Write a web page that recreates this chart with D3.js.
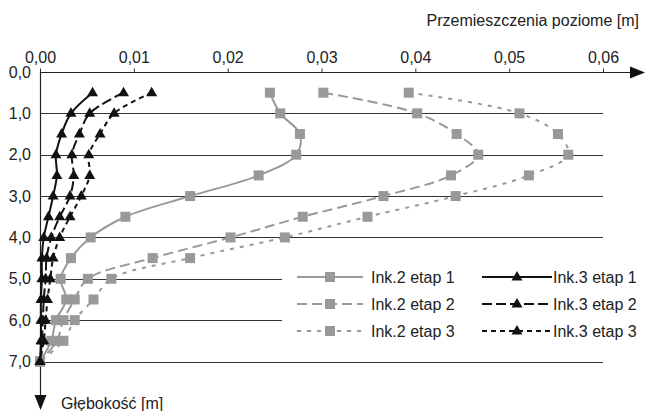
<!DOCTYPE html>
<html lang="pl">
    <head>
        <meta charset="utf-8">
        <title>Przemieszczenia poziome</title>
        <script type="text/javascript" src="https://cdn.jsdelivr.net/npm/d3@7/dist/d3.min.js"></script>
        <style>
            body { margin: 0; background: #fff; }
            svg { display: block; font-family: "Liberation Sans", Arial, sans-serif; }
        </style>
    </head>

    <body>
        <script type="text/javascript">

            // depths [m]
            var depths = [0.5, 1.0, 1.5, 2.0, 2.5, 3.0, 3.5, 4.0, 4.5, 5.0, 5.5, 6.0, 6.5, 7.0];

            // horizontal displacements [m], inclinometer 2
            var ink2_etap1 = [0.0245, 0.0256, 0.0277, 0.0273, 0.0233, 0.0160, 0.0091, 0.0054, 0.0033, 0.0022, 0.0028, 0.0017, 0.0012, 0.0];
            var ink2_etap2 = [0.0302, 0.0402, 0.0444, 0.0467, 0.0438, 0.0366, 0.0280, 0.0203, 0.0120, 0.0051, 0.0037, 0.0025, 0.0018, 0.0];
            var ink2_etap3 = [0.0393, 0.0511, 0.0552, 0.0563, 0.0521, 0.0443, 0.0349, 0.0261, 0.0160, 0.0076, 0.0057, 0.0037, 0.0025, 0.0];

            // horizontal displacements [m], inclinometer 3
            var ink3_etap1 = [0.0056, 0.0033, 0.0023, 0.0017, 0.0018, 0.0014, 0.0009, 0.0004, 0.0002, 0.0002, 0.0001, 0.0001, 0.0001, 0.0];
            var ink3_etap2 = [0.0089, 0.0053, 0.0042, 0.0034, 0.0036, 0.0032, 0.0021, 0.0012, 0.0007, 0.0006, 0.0004, 0.0003, 0.0002, 0.0];
            var ink3_etap3 = [0.0119, 0.0079, 0.0064, 0.0052, 0.0053, 0.0044, 0.0032, 0.0021, 0.0014, 0.0011, 0.0008, 0.0006, 0.0004, 0.0];

            var series_names = ["Ink.2 etap 1", "Ink.2 etap 2", "Ink.2 etap 3", "Ink.3 etap 1", "Ink.3 etap 2", "Ink.3 etap 3"];

            var x_ticks = [0, 0.01, 0.02, 0.03, 0.04, 0.05, 0.06];
            var y_ticks = [0, 1, 2, 3, 4, 5, 6, 7];

            var x_title = "Przemieszczenia poziome [m]";
            var y_title = "Głębokość [m]";

            var gray = "#999999";
            var black = "#111111";
            var font_size = "16px";

            // style of every series: colour, dashes, marker
            var series = [
                { name: series_names[0], values: ink2_etap1, color: gray, dash: null, marker: "square" },
                { name: series_names[1], values: ink2_etap2, color: gray, dash: "10,5", marker: "square" },
                { name: series_names[2], values: ink2_etap3, color: gray, dash: "4,6", marker: "square" },
                { name: series_names[3], values: ink3_etap1, color: black, dash: null, marker: "triangle" },
                { name: series_names[4], values: ink3_etap2, color: black, dash: "10,4", marker: "triangle" },
                { name: series_names[5], values: ink3_etap3, color: black, dash: "5,4", marker: "triangle" }
            ];

            var width = 645;
            var height = 411;

            var x = d3.scaleLinear().domain([0, 0.06]).range([40, 603]);
            var y = d3.scaleLinear().domain([0, 7]).range([72, 361.5]);

            var fmt_x = function(d) { return d3.format(".2f")(d).replace(".", ","); };
            var fmt_y = function(d) { return d3.format(".1f")(d).replace(".", ","); };

            var svg = d3.select("body")
                .append("svg")
                .attr("width", width)
                .attr("height", height);

            // horizontal grid lines
            svg.append("g")
                .selectAll("line")
                .data(y_ticks.slice(1))
                .enter()
                .append("line")
                .attr("x1", x(0))
                .attr("x2", x(0.06))
                .attr("y1", function(d) { return Math.round(y(d)) + 0.5; })
                .attr("y2", function(d) { return Math.round(y(d)) + 0.5; })
                .attr("stroke", "#333")
                .attr("stroke-width", 1);

            // x axis on top, with small ticks and an arrow
            var x_axis = d3.axisTop(x)
                .tickValues(x_ticks)
                .tickSize(4)
                .tickPadding(6)
                .tickFormat(fmt_x);

            var gx = svg.append("g")
                .attr("transform", "translate(0," + (Math.round(y(0)) + 0.5) + ")")
                .call(x_axis);
            gx.select(".domain").remove();
            gx.selectAll("line").attr("stroke", "#333");
            gx.selectAll("text")
                .attr("fill", "#222")
                .style("font-size", font_size);

            svg.append("line")
                .attr("x1", x(0))
                .attr("x2", 632)
                .attr("y1", Math.round(y(0)) + 0.5)
                .attr("y2", Math.round(y(0)) + 0.5)
                .attr("stroke", "#222")
                .attr("stroke-width", 1.2);
            svg.append("path")
                .attr("d", d3.line()([[630, y(0) - 5.5], [645, y(0) + 0.5], [630, y(0) + 6.5]]))
                .attr("fill", "#111");

            svg.append("text")
                .attr("x", 639)
                .attr("y", 26)
                .attr("text-anchor", "end")
                .attr("fill", "#222")
                .style("font-size", font_size)
                .text(x_title);

            // y axis going down, labels on the left and an arrow
            svg.append("line")
                .attr("x1", Math.round(x(0)) + 0.5)
                .attr("x2", Math.round(x(0)) + 0.5)
                .attr("y1", y(0))
                .attr("y2", 398)
                .attr("stroke", "#222")
                .attr("stroke-width", 1.2);
            svg.append("path")
                .attr("d", d3.line()([[x(0) - 5.5, 395], [x(0) + 0.5, 410], [x(0) + 6.5, 395]]))
                .attr("fill", "#111");

            svg.append("g")
                .selectAll("text")
                .data(y_ticks)
                .enter()
                .append("text")
                .attr("x", 31)
                .attr("y", function(d) { return y(d); })
                .attr("dy", "0.35em")
                .attr("text-anchor", "end")
                .attr("fill", "#222")
                .style("font-size", font_size)
                .text(fmt_y);

            svg.append("text")
                .attr("x", 61)
                .attr("y", 409)
                .attr("fill", "#222")
                .style("font-size", font_size)
                .text(y_title);

            // smoothed lines like the spreadsheet ones
            var line = d3.line()
                .x(function(d) { return x(d[0]); })
                .y(function(d) { return y(d[1]); })
                .curve(d3.curveCatmullRom.alpha(0.5));

            function points(s) {
                return s.values.map(function(v, i) { return [v, depths[i]]; });
            }

            function draw_marker(g, kind, color) {
                if (kind == "square") {
                    g.append("rect")
                        .attr("x", -5)
                        .attr("y", -5)
                        .attr("width", 10)
                        .attr("height", 10)
                        .attr("fill", color);
                } else {
                    g.append("path")
                        .attr("d", "M0,-6L5.5,3.5L-5.5,3.5Z")
                        .attr("fill", color);
                }
            }

            // gray series first, black ones on top
            series.forEach(function(s) {
                svg.append("path")
                    .attr("d", line(points(s)))
                    .attr("fill", "none")
                    .attr("stroke", s.color)
                    .attr("stroke-width", 2)
                    .attr("stroke-dasharray", s.dash);

                svg.append("g")
                    .selectAll("g")
                    .data(points(s))
                    .enter()
                    .append("g")
                    .attr("transform", function(d) { return "translate(" + x(d[0]) + "," + y(d[1]) + ")"; })
                    .each(function() { draw_marker(d3.select(this), s.marker, s.color); });
            });

            // legend with a white background
            var legend = svg.append("g");
            legend.append("rect")
                .attr("x", 282)
                .attr("y", 255)
                .attr("width", 363)
                .attr("height", 92)
                .attr("fill", "#fff");

            var legend_items = legend.selectAll("g.item")
                .data(series)
                .enter()
                .append("g")
                .attr("class", "item")
                .attr("transform", function(d, i) {
                    var col = Math.floor(i / 3);
                    var row = i % 3;
                    return "translate(" + (col == 0 ? 297 : 482) + "," + (277 + row * 27) + ")";
                });

            legend_items.append("line")
                .attr("x1", 0)
                .attr("x2", function(d, i) { return i < 3 ? 66 : 70; })
                .attr("y1", 0)
                .attr("y2", 0)
                .attr("stroke", function(d) { return d.color; })
                .attr("stroke-width", 2)
                .attr("stroke-dasharray", function(d) { return d.dash; });

            legend_items.append("g")
                .attr("transform", function(d, i) { return "translate(" + (i < 3 ? 33 : 35) + ",0)"; })
                .each(function(d) { draw_marker(d3.select(this), d.marker, d.color); });

            legend_items.append("text")
                .attr("x", function(d, i) { return i < 3 ? 74 : 71; })
                .attr("y", 0)
                .attr("dy", "0.35em")
                .attr("fill", "#222")
                .style("font-size", font_size)
                .text(function(d) { return d.name; });

        </script>
    </body>
</html>
